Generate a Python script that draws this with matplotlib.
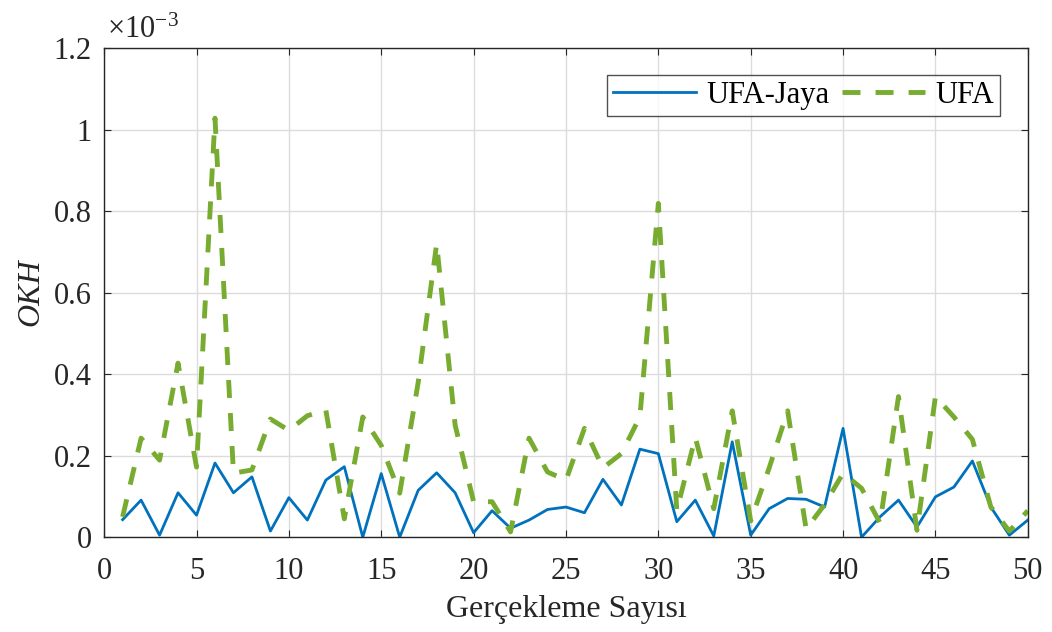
import numpy as np
import matplotlib.pyplot as plt
from matplotlib.ticker import FuncFormatter

# OKH values per run, in units of 1e-3
runs = list(range(1, 51))
ufa_jaya = [0.043, 0.091, 0.005, 0.109, 0.054, 0.182, 0.109, 0.148, 0.015, 0.097,
            0.042, 0.140, 0.173, 0.000, 0.156, 0.000, 0.115, 0.158, 0.109, 0.011,
            0.065, 0.022, 0.042, 0.068, 0.074, 0.060, 0.142, 0.079, 0.216, 0.205,
            0.038, 0.091, 0.003, 0.234, 0.005, 0.070, 0.095, 0.093, 0.074, 0.267,
            0.000, 0.050, 0.091, 0.025, 0.099, 0.123, 0.187, 0.074, 0.005, 0.042]
ufa = [0.050, 0.243, 0.189, 0.427, 0.172, 1.028, 0.157, 0.165, 0.290, 0.262,
       0.298, 0.312, 0.045, 0.295, 0.225, 0.108, 0.380, 0.720, 0.275, 0.087,
       0.087, 0.013, 0.243, 0.160, 0.140, 0.267, 0.170, 0.205, 0.295, 0.819,
       0.065, 0.245, 0.070, 0.310, 0.040, 0.170, 0.310, 0.020, 0.080, 0.157,
       0.120, 0.035, 0.345, 0.017, 0.345, 0.295, 0.240, 0.074, 0.015, 0.065]

plt.rcParams['font.family'] = ['Liberation Serif', 'DejaVu Serif']
plt.rcParams['mathtext.fontset'] = 'custom'
plt.rcParams['mathtext.rm'] = 'Liberation Serif'
plt.rcParams['mathtext.it'] = 'Liberation Serif:italic'

fig = plt.figure(figsize=(10.52, 6.32), dpi=100)
ax = fig.add_axes([0.099, 0.150, 0.878, 0.774])

ax.plot(runs, np.array(ufa_jaya) * 1e-3, color='#0072BD', linewidth=2.0, label='UFA-Jaya')
ax.plot(runs, np.array(ufa) * 1e-3, color='#77AC30', linewidth=3.5, linestyle='--',
        dashes=(3.7, 3.1), label='UFA')

ax.set_xlim(0, 50)
ax.set_ylim(0, 1.2e-3)
ax.set_xticks(np.arange(0, 51, 5))
ax.set_yticks(np.arange(0, 1.21e-3, 0.2e-3))
ax.yaxis.set_major_formatter(FuncFormatter(lambda v, pos: '%g' % round(v * 1e3, 3)))
ax.text(0.003, 1.021, r'$\times$10$^{\mathrm{-3}}$', transform=ax.transAxes, fontsize=22,
        ha='left', va='baseline', color='#262626')

ax.grid(True, color='#dcdcdc', linewidth=1)
ax.set_axisbelow(True)
ax.tick_params(direction='in', top=True, right=True, labelsize=22, colors='#262626',
               length=5)
ax.tick_params(axis='x', pad=14)
ax.tick_params(axis='y', pad=9)
for s in ax.spines.values():
    s.set_color('#262626')
    s.set_linewidth(1)

ax.set_xlabel('Gerçekleme Sayısı', fontsize=23, color='#262626', labelpad=7)
ax.set_ylabel('OKH', fontsize=23, style='italic', color='#262626', labelpad=6)

leg = ax.legend(ncol=2, loc='upper right', bbox_to_anchor=(0.970, 0.945), borderaxespad=0,
                fontsize=22, frameon=True, fancybox=False, handlelength=2.7,
                columnspacing=0.4, handletextpad=0.35, borderpad=0.2)
leg.get_frame().set_edgecolor('#262626')
leg.get_frame().set_linewidth(1)

fig.savefig('out.png', dpi=100)
